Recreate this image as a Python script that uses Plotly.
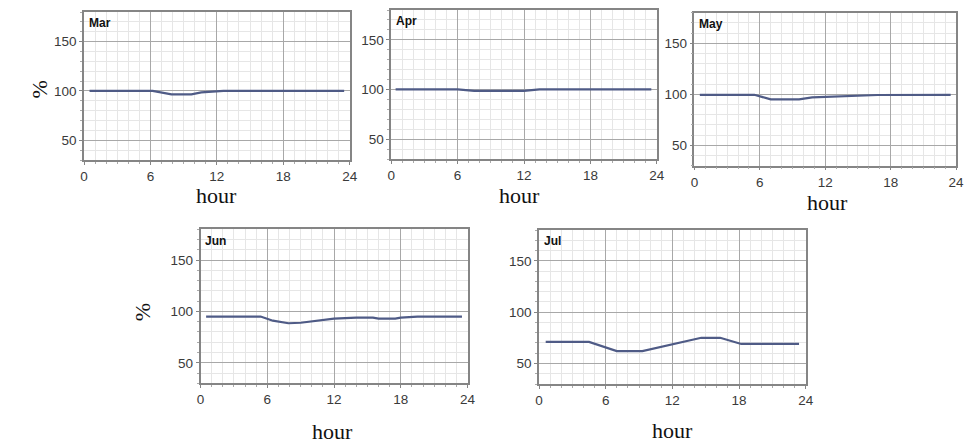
import plotly.graph_objects as go

W, H = 974, 444

months = ["Mar", "Apr", "May", "Jun", "Jul"]
mar_h = [0.5, 6.2, 7.9, 9.7, 10.6, 12.6, 23.5]
mar_v = [100, 100, 96.5, 96.5, 98.5, 100, 100]
apr_h = [0.4, 6.0, 7.5, 11.0, 12.0, 13.4, 23.5]
apr_v = [100, 100, 98.5, 98.5, 98.5, 100, 100]
may_h = [0.5, 5.5, 7.0, 9.6, 10.8, 12.6, 14.7, 16.8, 23.5]
may_v = [99.5, 99.5, 95, 95, 97, 97.5, 98.5, 99.3, 99.5]
jun_h = [0.5, 5.4, 6.5, 7.9, 9.0, 10.5, 12, 14, 15.5, 16, 17.5, 18, 19.5, 23.5]
jun_v = [95, 95, 91, 88.5, 89, 91, 93, 94, 94, 93, 93, 94, 95, 95]
jul_h = [0.6, 4.5, 7.0, 9.3, 14.6, 16.3, 18.2, 23.4]
jul_v = [71, 71, 62, 62, 75, 75, 69, 69]
series_h = [mar_h, apr_h, may_h, jun_h, jul_h]
series_v = [mar_v, apr_v, may_v, jun_v, jul_v]

x_ticks = [0, 6, 12, 18, 24]
y_ticks = [50, 100, 150]

# panel boxes in pixels: left, right, top, bottom
boxes = [(81, 350, 12, 160), (392, 661, 10, 159), (699, 964, 12.7, 165.7),
         (199, 469.3, 229.3, 383.3), (541.7, 811.7, 230, 384)]
hour_pos = [(215, 196), (522, 195), (834, 202), (333, 431), (677, 430)]
pct_pos = [(35, 90), (140, 312)]

fig = go.Figure()
layout = dict(width=W, height=H, margin=dict(l=0, r=0, t=0, b=0),
              paper_bgcolor="white", plot_bgcolor="white", showlegend=False,
              annotations=[])
tickfont = dict(family="Liberation Sans, Arial", size=13.5, color="#3a3a3a")
for i, (m, hh, vv, box) in enumerate(zip(months, series_h, series_v, boxes)):
    s = "" if i == 0 else str(i + 1)
    fig.add_trace(go.Scatter(x=hh, y=vv, mode="lines", xaxis="x" + s, yaxis="y" + s,
                             line=dict(color="#4f5b86", width=2.2)))
    l, r, t, b = box
    common = dict(showline=True, linecolor="#858585", linewidth=1.5, mirror=True,
                  ticks="outside", ticklen=3, tickcolor="#858585",
                  showgrid=True, gridcolor="#a8a8a8", gridwidth=1, zeroline=False,
                  tickfont=tickfont, fixedrange=True)
    layout["xaxis" + s] = dict(common, domain=[l / W, r / W], range=[0, 24],
                               tickvals=x_ticks, anchor="y" + s,
                               minor=dict(dtick=1, showgrid=True, gridcolor="#e6e6e6",
                                          ticks="outside", ticklen=2, tickcolor="#aaaaaa"))
    layout["yaxis" + s] = dict(common, domain=[1 - b / H, 1 - t / H], range=[30, 180],
                               tickvals=y_ticks, anchor="x" + s,
                               minor=dict(dtick=10, showgrid=True, gridcolor="#e6e6e6",
                                          ticks="outside", ticklen=2, tickcolor="#aaaaaa"))
    layout["annotations"].append(dict(text="<b>" + m + "</b>", xref="x" + s + " domain",
                                      yref="y" + s + " domain", x=0.01, y=0.985,
                                      xanchor="left", yanchor="top", showarrow=False,
                                      font=dict(family="Liberation Sans, Arial", size=12,
                                                color="#111111")))
    hx, hy = hour_pos[i]
    layout["annotations"].append(dict(text="hour", xref="paper", yref="paper",
                                      x=hx / W, y=1 - hy / H, xanchor="center",
                                      yanchor="middle", showarrow=False,
                                      font=dict(family="Liberation Serif, Times New Roman",
                                                size=22, color="#111111")))
for px, py in pct_pos:
    layout["annotations"].append(dict(text="%", xref="paper", yref="paper",
                                      x=px / W, y=1 - py / H, xanchor="center",
                                      yanchor="middle", showarrow=False, textangle=-90,
                                      font=dict(family="Liberation Serif, Times New Roman",
                                                size=22, color="#111111")))
fig.update_layout(**layout)
fig.write_html("out.html")
